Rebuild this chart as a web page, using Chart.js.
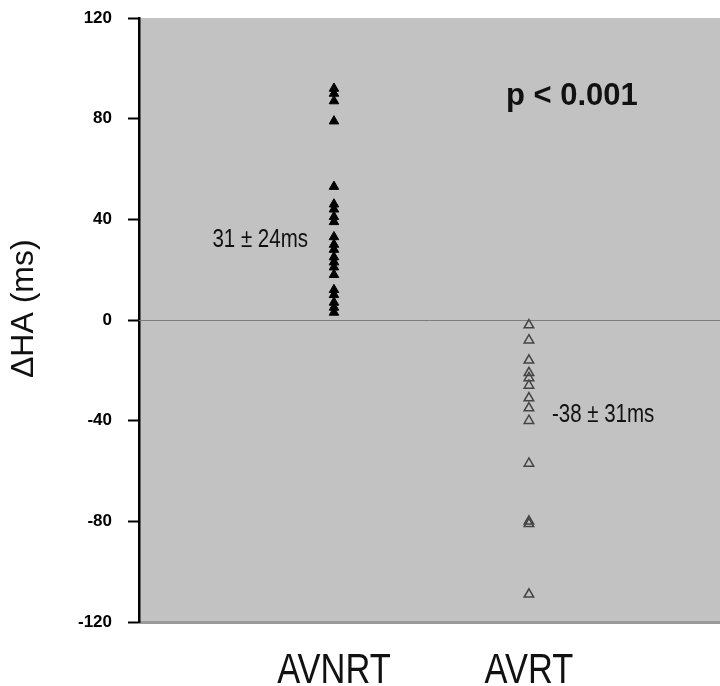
<!DOCTYPE html>
<html>
<head>
<meta charset="utf-8">
<script src="https://cdn.jsdelivr.net/npm/chart.js@4.4.1/dist/chart.umd.min.js"></script>
<style>
  html, body { margin: 0; padding: 0; background: #fff; overflow: hidden; }
  canvas { display: block; }
</style>
</head>
<body>
<canvas id="chart" width="720" height="686"></canvas>
<script>
// categories and values (ms)
const categories = ['AVNRT', 'AVRT'];
const avnrtValues = [92, 90, 87, 79, 53, 46, 44, 41, 39, 33, 30, 28, 25, 23, 21, 18, 12, 10, 7, 5, 3];
const avrtValues = [-2, -8, -16, -21, -23, -26, -31, -35, -40, -57, -80, -81, -109];
const yTicks = [-120, -80, -40, 0, 40, 80, 120];
const annotations = [
    { cat: 0, value: 31, text: '31 \u00B1 24ms' },
    { cat: 1, value: -38, text: '-38 \u00B1 31ms' }
];
const pText = 'p < 0.001';
const yTitle = '\u0394HA (ms)';

const sans = '"Liberation Sans", Arial, sans-serif';
const SQUEEZE = 0.82; // the figure uses a narrow face, no narrow font installed

// text drawn horizontally condensed
function narrowText(ctx, text, x, y, align) {
    const w = ctx.measureText(text).width * SQUEEZE;
    let left = x;
    if (align === 'center') left = x - w / 2;
    if (align === 'right') left = x - w;
    ctx.save();
    ctx.textAlign = 'left';
    ctx.translate(left, y);
    ctx.scale(SQUEEZE, 1);
    ctx.fillText(text, 0, 0);
    ctx.restore();
}

const toPoints = (vals, i) => vals.map(v => ({ x: i + 1, y: v }));

const plotDecor = {
    id: 'plotDecor',
    beforeDraw(chart) {
        const { ctx, chartArea: a } = chart;
        ctx.save();
        ctx.fillStyle = '#c2c2c2';
        ctx.fillRect(a.left, a.top, a.right - a.left, a.bottom - a.top);
        ctx.restore();
    },
    beforeDatasetsDraw(chart) {
        const { ctx, chartArea: a, scales } = chart;
        const y0 = Math.round(scales.y.getPixelForValue(0)) + 0.5;
        ctx.save();
        ctx.strokeStyle = '#7c7c7c';
        ctx.lineWidth = 1;
        ctx.beginPath();
        ctx.moveTo(a.left, y0);
        ctx.lineTo(a.right, y0);
        ctx.stroke();
        ctx.restore();
    },
    afterDraw(chart) {
        const { ctx, scales } = chart;
        ctx.save();
        ctx.fillStyle = '#111';
        ctx.textBaseline = 'alphabetic';

        // category labels under the axis
        ctx.font = '42px ' + sans;
        categories.forEach((c, i) => {
            narrowText(ctx, c, scales.x.getPixelForValue(i + 1), 683, 'center');
        });

        // mean +/- sd notes
        ctx.font = '25px ' + sans;
        annotations.forEach(n => {
            const x = scales.x.getPixelForValue(n.cat + 1);
            const y = scales.y.getPixelForValue(n.value);
            if (n.cat === 0) narrowText(ctx, n.text, x - 26, y + 5, 'right');
            else narrowText(ctx, n.text, x + 23, y + 6, 'left');
        });

        ctx.font = 'bold 31px ' + sans;
        ctx.textAlign = 'center';
        ctx.fillText(pText, scales.x.getPixelForValue(2.22), scales.y.getPixelForValue(85.4));

        // y axis title
        ctx.save();
        ctx.translate(24, scales.y.getPixelForValue(4.5));
        ctx.rotate(-Math.PI / 2);
        ctx.font = '32px ' + sans;
        ctx.textAlign = 'center';
        ctx.textBaseline = 'middle';
        ctx.fillText(yTitle, 0, 0);
        ctx.restore();

        ctx.restore();
    }
};

new Chart(document.getElementById('chart'), {
    type: 'scatter',
    data: {
        datasets: [
            {
                label: categories[0],
                data: toPoints(avnrtValues, 0),
                pointStyle: 'triangle',
                pointRadius: 5.5,
                backgroundColor: '#000',
                borderColor: '#000',
                borderWidth: 1
            },
            {
                label: categories[1],
                data: toPoints(avrtValues, 1),
                pointStyle: 'triangle',
                pointRadius: 5.5,
                backgroundColor: 'rgba(0,0,0,0)',
                borderColor: '#444',
                borderWidth: 1.5
            }
        ]
    },
    options: {
        responsive: false,
        animation: false,
        layout: { autoPadding: false, padding: { top: 18, right: 0, left: 0, bottom: 0 } },
        plugins: {
            legend: { display: false },
            tooltip: { enabled: false }
        },
        scales: {
            x: {
                type: 'linear',
                min: 0,
                max: 2.98,
                afterBuildTicks: s => { s.ticks = categories.map((c, i) => ({ value: i + 1 })); },
                afterFit: s => {
                    s.height = 64;
                    s.paddingLeft = 0;
                    s.paddingRight = 0;
                },
                grid: { display: false },
                border: { display: true, color: '#9a9a9a', width: 3 },
                ticks: { display: false }
            },
            y: {
                min: -120,
                max: 120,
                afterBuildTicks: s => { s.ticks = yTicks.map(v => ({ value: v })); },
                afterFit: s => {
                    s.width = 139;
                    s.paddingTop = 0;
                    s.paddingBottom = 0;
                },
                grid: {
                    drawOnChartArea: false,
                    drawTicks: true,
                    tickLength: 11,
                    tickWidth: 2,
                    tickColor: '#000'
                },
                border: { display: true, color: '#000', width: 2.5 },
                ticks: {
                    color: '#000',
                    font: { family: sans, size: 17, weight: 'bold' },
                    padding: 16
                }
            }
        }
    },
    plugins: [plotDecor]
});
</script>
</body>
</html>
